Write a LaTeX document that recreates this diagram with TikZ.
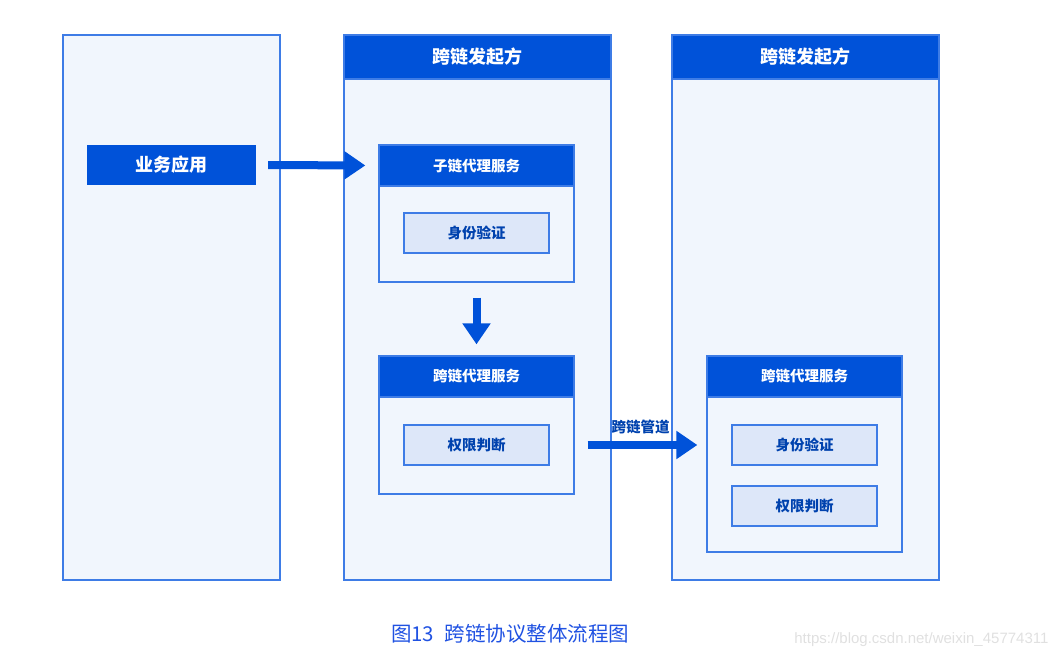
\documentclass[tikz,border=0pt]{standalone}
\usepackage{fontspec}
\setmainfont{Noto Sans CJK SC}
\newfontfamily\wmfont{Liberation Sans}
\usetikzlibrary{arrows.meta,positioning}
\definecolor{chainBlue}{RGB}{0,82,217}
\definecolor{edgeBlue}{RGB}{62,124,230}
\definecolor{paneFill}{RGB}{241,246,253}
\definecolor{cellFill}{RGB}{221,231,249}
\definecolor{capBlue}{RGB}{32,82,226}
\tikzset{
  pane/.style={draw=edgeBlue, line width=1.3pt, fill=paneFill, minimum width=#1, minimum height=545pt, inner sep=0pt},
  panehead/.style={fill=chainBlue, draw=edgeBlue, line width=1.3pt, text=white, minimum height=44pt, inner sep=0pt, font=\fontsize{18}{21}\selectfont\bfseries},
  svc/.style={draw=edgeBlue, line width=1.3pt, fill=paneFill, minimum width=195pt, inner sep=0pt},
  svchead/.style={fill=chainBlue, draw=edgeBlue, line width=1.3pt, text=white, minimum width=195pt, minimum height=41pt, inner sep=0pt, font=\fontsize{14.5}{17}\selectfont\bfseries},
  cell/.style={draw=edgeBlue, line width=1.3pt, fill=cellFill, text=chainBlue!80!black, minimum width=145pt, minimum height=40pt, inner sep=0pt, font=\fontsize{14.5}{17}\selectfont\bfseries},
  appbox/.style={fill=chainBlue, text=white, minimum width=169pt, minimum height=40pt, inner sep=0pt, font=\fontsize{18}{21}\selectfont\bfseries},
  bigarrow/.style={-{Triangle[length=21pt,width=27pt]}, line width=8pt, draw=chainBlue}
}

\begin{document}
\begin{tikzpicture}[x=1pt,y=-1pt]
  \useasboundingbox (0,0) rectangle (1060,660);
  % three columns
  \node[pane=217pt] (leftcol) at (171.5,307.5) {};
  \node[pane=267pt] (midcol) at (477.5,307.5) {};
  \node[pane=267pt] (rightcol) at (805.5,307.5) {};
  \node[panehead, minimum width=267pt, anchor=north] (midhd) at (midcol.north) {跨链发起方};
  \node[panehead, minimum width=267pt, anchor=north] (righthd) at (rightcol.north) {跨链发起方};

  \node[appbox] (app) at (171.5,165) {业务应用};

  % service boxes
  \node[svc, minimum height=137pt] (subA) at (476.5,213.5) {};
  \node[svchead, anchor=north] (subAhd) at (subA.north) {子链代理服务};
  \node[cell] (idA) at (476.5,233) {身份验证};

  \node[svc, minimum height=138pt] (crossA) at (476.5,425) {};
  \node[svchead, anchor=north] (crossAhd) at (crossA.north) {跨链代理服务};
  \node[cell] (permA) at (476.5,445) {权限判断};

  \node[svc, minimum height=196pt] (crossB) at (804.5,454) {};
  \node[svchead, anchor=north] (crossBhd) at (crossB.north) {跨链代理服务};
  \node[cell] (idB) at (804.5,445) {身份验证};
  \node[cell] (permB) at (804.5,506) {权限判断};

  \draw[bigarrow, shorten <=12pt, shorten >=13pt] (app.east) -- (subAhd.west);
  \draw[bigarrow, shorten <=15pt, shorten >=11pt] (subA.south) -- (crossAhd.north);
  \draw[bigarrow, shorten <=13pt, shorten >=9pt] (crossA.east |- permA) -- node[above=4pt, text=chainBlue!80!black, font=\fontsize{14.5}{17}\selectfont\bfseries] (pipe) {跨链管道} (crossB.west |- permA);

  % caption
  \node[text=capBlue, font=\fontsize{20.5}{24}\selectfont] (caption) at (510,634) {图13\enspace 跨链协议整体流程图};
  \node[text=black!12, font=\wmfont\fontsize{15}{18}\selectfont, anchor=east] (mark) at (1052,640) {https://blog.csdn.net/weixin\_45774311};
\end{tikzpicture}
\end{document}
